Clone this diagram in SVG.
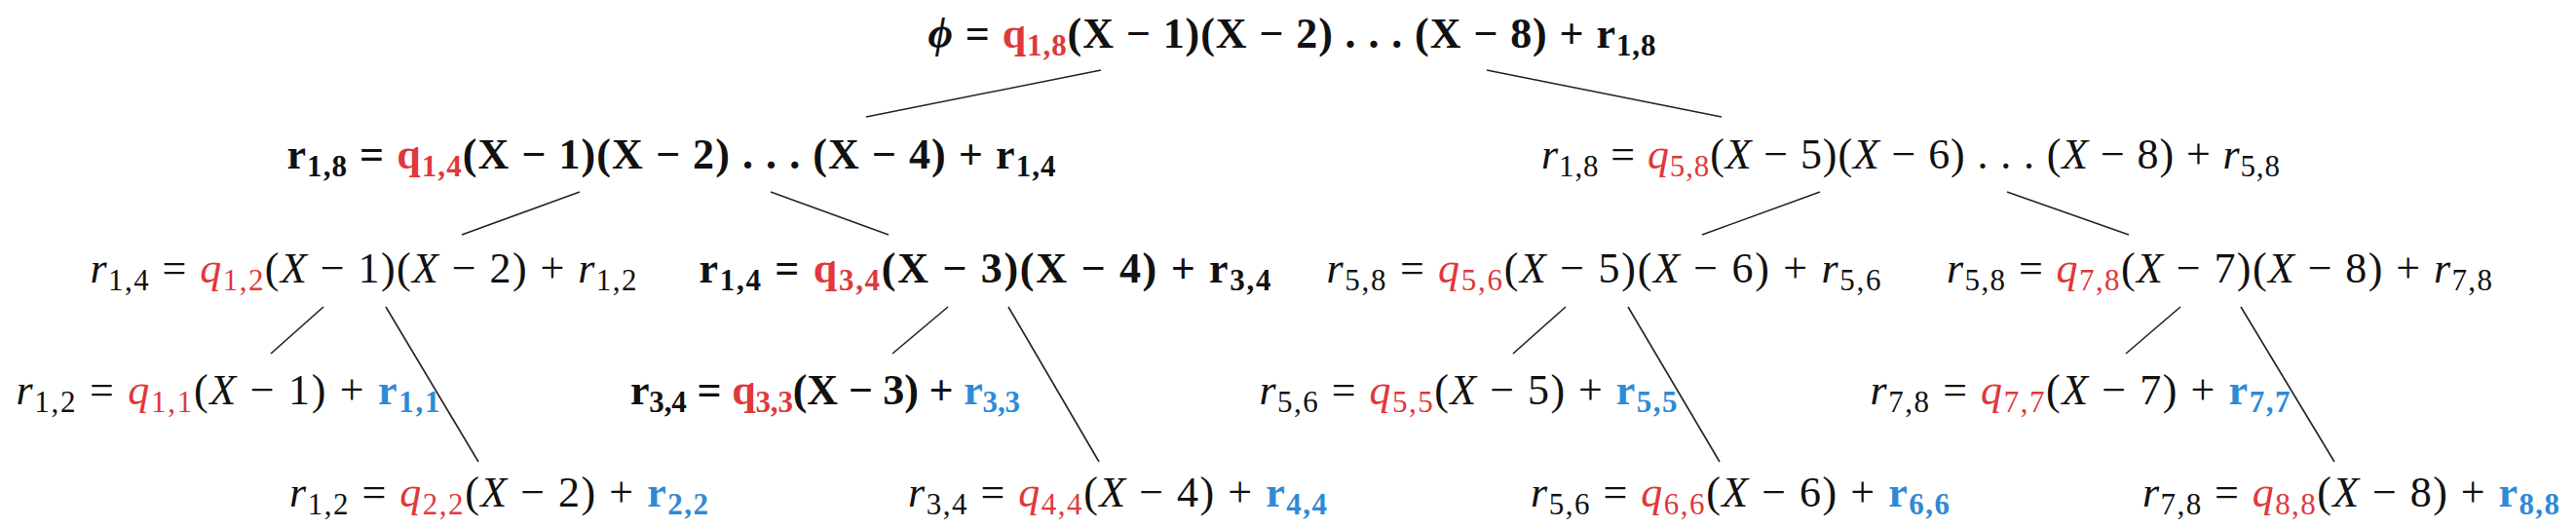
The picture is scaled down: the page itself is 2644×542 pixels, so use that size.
<svg xmlns="http://www.w3.org/2000/svg" width="2644" height="542" viewBox="0 0 2644 542">
<style>
.t{font-family:"Liberation Serif","Times New Roman",serif;font-size:44px;fill:#111}
.i{font-style:italic}
.b{font-weight:bold}
.s{font-size:31px;font-style:normal}
.red{fill:#e0383c}
.blue{fill:#2f8ad6}
.c line{stroke:#222;stroke-width:1.6}
</style>
<rect width="2644" height="542" fill="#fff"/>
<g id="connectors" class="c">
<line x1="1130" y1="72" x2="889" y2="120"/>
<line x1="1526" y1="72" x2="1767" y2="120"/>
<line x1="595" y1="197" x2="474" y2="241"/>
<line x1="791" y1="197" x2="912" y2="241"/>
<line x1="1868" y1="197" x2="1747" y2="241"/>
<line x1="2060" y1="197" x2="2185" y2="241"/>
<line x1="332" y1="315" x2="278" y2="363"/>
<line x1="396" y1="315" x2="491" y2="474"/>
<line x1="973" y1="315" x2="916" y2="363"/>
<line x1="1035" y1="315" x2="1128" y2="474"/>
<line x1="1607" y1="315" x2="1553" y2="363"/>
<line x1="1671" y1="315" x2="1765" y2="474"/>
<line x1="2238" y1="315" x2="2182" y2="363"/>
<line x1="2300" y1="315" x2="2396" y2="474"/>
</g>
<g id="n_root"><text class="t b" x="1326" y="49" text-anchor="middle" textLength="747" lengthAdjust="spacing"><tspan class="i">ϕ</tspan> = <tspan class="red">q</tspan><tspan class="s red" dy="8">1,8</tspan><tspan dy="-8">(X − 1)(X − 2) . . . (X − 8) + r</tspan><tspan class="s" dy="8">1,8</tspan></text></g>
<g id="n_r18a"><text class="t b" x="689" y="173" text-anchor="middle" textLength="789" lengthAdjust="spacing">r<tspan class="s" dy="8">1,8</tspan><tspan dy="-8"> = </tspan><tspan class="red">q</tspan><tspan class="s red" dy="8">1,4</tspan><tspan dy="-8">(X − 1)(X − 2) . . . (X − 4) + r</tspan><tspan class="s" dy="8">1,4</tspan></text></g>
<g id="n_r18b"><text class="t" x="1961" y="173" text-anchor="middle" textLength="758" lengthAdjust="spacing"><tspan class="i">r</tspan><tspan class="s" dy="8">1,8</tspan><tspan dy="-8"> = </tspan><tspan class="i red">q</tspan><tspan class="s red" dy="8">5,8</tspan><tspan dy="-8">(</tspan><tspan class="i">X</tspan> − 5)(<tspan class="i">X</tspan> − 6) . . . (<tspan class="i">X</tspan> − 8) + <tspan class="i">r</tspan><tspan class="s" dy="8">5,8</tspan></text></g>
<g id="n_r14a"><text class="t" x="373" y="290" text-anchor="middle" textLength="561" lengthAdjust="spacing"><tspan class="i">r</tspan><tspan class="s" dy="8">1,4</tspan><tspan dy="-8"> = </tspan><tspan class="i red">q</tspan><tspan class="s red" dy="8">1,2</tspan><tspan dy="-8">(</tspan><tspan class="i">X</tspan> − 1)(<tspan class="i">X</tspan> − 2) + <tspan class="i">r</tspan><tspan class="s" dy="8">1,2</tspan></text></g>
<g id="n_r14b"><text class="t b" x="1011" y="290" text-anchor="middle" textLength="587" lengthAdjust="spacing">r<tspan class="s" dy="8">1,4</tspan><tspan dy="-8"> = </tspan><tspan class="red">q</tspan><tspan class="s red" dy="8">3,4</tspan><tspan dy="-8">(X − 3)(X − 4) + r</tspan><tspan class="s" dy="8">3,4</tspan></text></g>
<g id="n_r58a"><text class="t" x="1646" y="290" text-anchor="middle" textLength="569" lengthAdjust="spacing"><tspan class="i">r</tspan><tspan class="s" dy="8">5,8</tspan><tspan dy="-8"> = </tspan><tspan class="i red">q</tspan><tspan class="s red" dy="8">5,6</tspan><tspan dy="-8">(</tspan><tspan class="i">X</tspan> − 5)(<tspan class="i">X</tspan> − 6) + <tspan class="i">r</tspan><tspan class="s" dy="8">5,6</tspan></text></g>
<g id="n_r58b"><text class="t" x="2278" y="290" text-anchor="middle" textLength="560" lengthAdjust="spacing"><tspan class="i">r</tspan><tspan class="s" dy="8">5,8</tspan><tspan dy="-8"> = </tspan><tspan class="i red">q</tspan><tspan class="s red" dy="8">7,8</tspan><tspan dy="-8">(</tspan><tspan class="i">X</tspan> − 7)(<tspan class="i">X</tspan> − 8) + <tspan class="i">r</tspan><tspan class="s" dy="8">7,8</tspan></text></g>
<g id="n_r12a"><text class="t" x="234" y="415" text-anchor="middle" textLength="435" lengthAdjust="spacing"><tspan class="i">r</tspan><tspan class="s" dy="8">1,2</tspan><tspan dy="-8"> = </tspan><tspan class="i red">q</tspan><tspan class="s red" dy="8">1,1</tspan><tspan dy="-8">(</tspan><tspan class="i">X</tspan> − 1) + <tspan class="b blue">r</tspan><tspan class="s b blue" dy="8">1,1</tspan></text></g>
<g id="n_r34a"><text class="t b" x="847" y="415" text-anchor="middle" textLength="400" lengthAdjust="spacing">r<tspan class="s" dy="8">3,4</tspan><tspan dy="-8"> = </tspan><tspan class="red">q</tspan><tspan class="s red" dy="8">3,3</tspan><tspan dy="-8">(X − 3) + </tspan><tspan class="blue">r</tspan><tspan class="s blue" dy="8">3,3</tspan></text></g>
<g id="n_r56a"><text class="t" x="1507" y="415" text-anchor="middle" textLength="429" lengthAdjust="spacing"><tspan class="i">r</tspan><tspan class="s" dy="8">5,6</tspan><tspan dy="-8"> = </tspan><tspan class="i red">q</tspan><tspan class="s red" dy="8">5,5</tspan><tspan dy="-8">(</tspan><tspan class="i">X</tspan> − 5) + <tspan class="b blue">r</tspan><tspan class="s b blue" dy="8">5,5</tspan></text></g>
<g id="n_r78a"><text class="t" x="2135" y="415" text-anchor="middle" textLength="431" lengthAdjust="spacing"><tspan class="i">r</tspan><tspan class="s" dy="8">7,8</tspan><tspan dy="-8"> = </tspan><tspan class="i red">q</tspan><tspan class="s red" dy="8">7,7</tspan><tspan dy="-8">(</tspan><tspan class="i">X</tspan> − 7) + <tspan class="b blue">r</tspan><tspan class="s b blue" dy="8">7,7</tspan></text></g>
<g id="n_r12b"><text class="t" x="512" y="520" text-anchor="middle" textLength="430" lengthAdjust="spacing"><tspan class="i">r</tspan><tspan class="s" dy="8">1,2</tspan><tspan dy="-8"> = </tspan><tspan class="i red">q</tspan><tspan class="s red" dy="8">2,2</tspan><tspan dy="-8">(</tspan><tspan class="i">X</tspan> − 2) + <tspan class="b blue">r</tspan><tspan class="s b blue" dy="8">2,2</tspan></text></g>
<g id="n_r34b"><text class="t" x="1147" y="520" text-anchor="middle" textLength="430" lengthAdjust="spacing"><tspan class="i">r</tspan><tspan class="s" dy="8">3,4</tspan><tspan dy="-8"> = </tspan><tspan class="i red">q</tspan><tspan class="s red" dy="8">4,4</tspan><tspan dy="-8">(</tspan><tspan class="i">X</tspan> − 4) + <tspan class="b blue">r</tspan><tspan class="s b blue" dy="8">4,4</tspan></text></g>
<g id="n_r56b"><text class="t" x="1786" y="520" text-anchor="middle" textLength="430" lengthAdjust="spacing"><tspan class="i">r</tspan><tspan class="s" dy="8">5,6</tspan><tspan dy="-8"> = </tspan><tspan class="i red">q</tspan><tspan class="s red" dy="8">6,6</tspan><tspan dy="-8">(</tspan><tspan class="i">X</tspan> − 6) + <tspan class="b blue">r</tspan><tspan class="s b blue" dy="8">6,6</tspan></text></g>
<g id="n_r78b"><text class="t" x="2413" y="520" text-anchor="middle" textLength="428" lengthAdjust="spacing"><tspan class="i">r</tspan><tspan class="s" dy="8">7,8</tspan><tspan dy="-8"> = </tspan><tspan class="i red">q</tspan><tspan class="s red" dy="8">8,8</tspan><tspan dy="-8">(</tspan><tspan class="i">X</tspan> − 8) + <tspan class="b blue">r</tspan><tspan class="s b blue" dy="8">8,8</tspan></text></g>
</svg>
